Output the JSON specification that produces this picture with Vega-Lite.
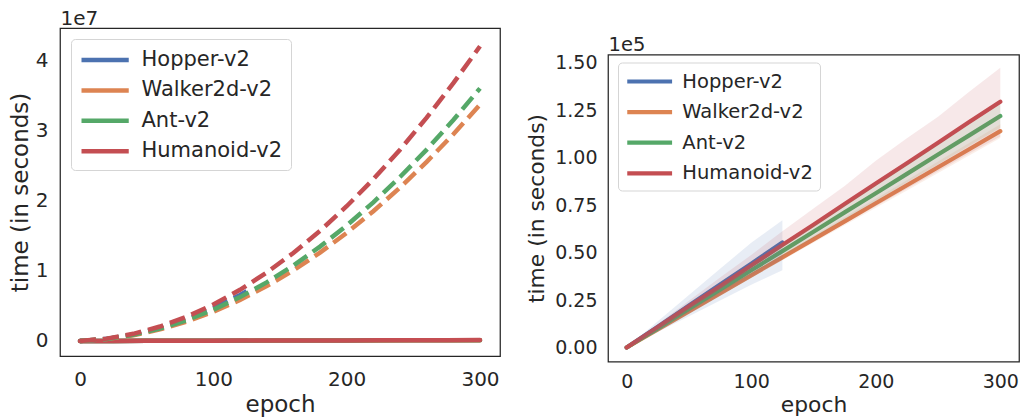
{
  "$schema": "https://vega.github.io/schema/vega-lite/v6.json",
  "background": "white",
  "padding": {"left": 8, "top": 7, "right": 0, "bottom": 0},
  "config": {
    "font": "DejaVu Sans",
    "view": {"stroke": "#262626", "strokeWidth": 1.25},
    "axis": {"grid": false, "ticks": false, "tickSize": 0, "domain": false, "labelColor": "#262626", "titleColor": "#262626", "titleFontWeight": "normal"},
    "concat": {"spacing": 24}
  },
  "datasets": {
    "lin": [
      {"env": "Hopper-v2", "epoch": 0, "time": 0, "lo": 0, "hi": 0},
      {"env": "Hopper-v2", "epoch": 25, "time": 11000, "lo": 8200, "hi": 13800},
      {"env": "Hopper-v2", "epoch": 50, "time": 22100, "lo": 16500, "hi": 27700},
      {"env": "Hopper-v2", "epoch": 75, "time": 33200, "lo": 24800, "hi": 41500},
      {"env": "Hopper-v2", "epoch": 100, "time": 44200, "lo": 33100, "hi": 55200},
      {"env": "Hopper-v2", "epoch": 125, "time": 55300, "lo": 40700, "hi": 67000},
      {"env": "Walker2d-v2", "epoch": 0, "time": 0, "lo": 0, "hi": 0},
      {"env": "Walker2d-v2", "epoch": 25, "time": 9500, "lo": 9200, "hi": 9800},
      {"env": "Walker2d-v2", "epoch": 50, "time": 19000, "lo": 18400, "hi": 19600},
      {"env": "Walker2d-v2", "epoch": 75, "time": 28500, "lo": 27600, "hi": 29400},
      {"env": "Walker2d-v2", "epoch": 100, "time": 38000, "lo": 36800, "hi": 39200},
      {"env": "Walker2d-v2", "epoch": 125, "time": 47500, "lo": 46000, "hi": 49000},
      {"env": "Walker2d-v2", "epoch": 150, "time": 57000, "lo": 55200, "hi": 58800},
      {"env": "Walker2d-v2", "epoch": 175, "time": 66500, "lo": 64400, "hi": 68600},
      {"env": "Walker2d-v2", "epoch": 200, "time": 76000, "lo": 73600, "hi": 78400},
      {"env": "Walker2d-v2", "epoch": 225, "time": 85500, "lo": 82800, "hi": 88200},
      {"env": "Walker2d-v2", "epoch": 250, "time": 95000, "lo": 92000, "hi": 98000},
      {"env": "Walker2d-v2", "epoch": 275, "time": 104500, "lo": 101200, "hi": 107800},
      {"env": "Walker2d-v2", "epoch": 300, "time": 114000, "lo": 110400, "hi": 117600},
      {"env": "Ant-v2", "epoch": 0, "time": 0, "lo": 0, "hi": 0},
      {"env": "Ant-v2", "epoch": 25, "time": 10100, "lo": 9600, "hi": 10700},
      {"env": "Ant-v2", "epoch": 50, "time": 20300, "lo": 19200, "hi": 21400},
      {"env": "Ant-v2", "epoch": 75, "time": 30500, "lo": 28900, "hi": 32200},
      {"env": "Ant-v2", "epoch": 100, "time": 40700, "lo": 38600, "hi": 42900},
      {"env": "Ant-v2", "epoch": 125, "time": 50800, "lo": 48200, "hi": 53500},
      {"env": "Ant-v2", "epoch": 150, "time": 61000, "lo": 57900, "hi": 64200},
      {"env": "Ant-v2", "epoch": 175, "time": 71200, "lo": 67600, "hi": 74900},
      {"env": "Ant-v2", "epoch": 200, "time": 81300, "lo": 77200, "hi": 85600},
      {"env": "Ant-v2", "epoch": 225, "time": 91500, "lo": 86900, "hi": 96300},
      {"env": "Ant-v2", "epoch": 250, "time": 101700, "lo": 96500, "hi": 106900},
      {"env": "Ant-v2", "epoch": 275, "time": 111800, "lo": 106200, "hi": 117500},
      {"env": "Ant-v2", "epoch": 300, "time": 122000, "lo": 115800, "hi": 128200},
      {"env": "Humanoid-v2", "epoch": 0, "time": 0, "lo": 0, "hi": 0},
      {"env": "Humanoid-v2", "epoch": 25, "time": 10800, "lo": 9200, "hi": 12400},
      {"env": "Humanoid-v2", "epoch": 50, "time": 21700, "lo": 18500, "hi": 24700},
      {"env": "Humanoid-v2", "epoch": 75, "time": 32300, "lo": 27900, "hi": 36900},
      {"env": "Humanoid-v2", "epoch": 100, "time": 43200, "lo": 37400, "hi": 48800},
      {"env": "Humanoid-v2", "epoch": 125, "time": 54000, "lo": 46600, "hi": 61300},
      {"env": "Humanoid-v2", "epoch": 150, "time": 64700, "lo": 55900, "hi": 73200},
      {"env": "Humanoid-v2", "epoch": 175, "time": 75600, "lo": 65200, "hi": 85100},
      {"env": "Humanoid-v2", "epoch": 200, "time": 86400, "lo": 74400, "hi": 98400},
      {"env": "Humanoid-v2", "epoch": 225, "time": 97100, "lo": 83600, "hi": 110300},
      {"env": "Humanoid-v2", "epoch": 250, "time": 107900, "lo": 92900, "hi": 121600},
      {"env": "Humanoid-v2", "epoch": 275, "time": 118800, "lo": 102200, "hi": 134800},
      {"env": "Humanoid-v2", "epoch": 300, "time": 129500, "lo": 111200, "hi": 147400}
    ],
    "quad": [
      {"env": "Hopper-v2", "epoch": 0, "time": 0},
      {"env": "Hopper-v2", "epoch": 20, "time": 302000},
      {"env": "Hopper-v2", "epoch": 40, "time": 922000},
      {"env": "Hopper-v2", "epoch": 60, "time": 1858000},
      {"env": "Hopper-v2", "epoch": 80, "time": 3110000},
      {"env": "Hopper-v2", "epoch": 100, "time": 4680000},
      {"env": "Hopper-v2", "epoch": 120, "time": 6566000},
      {"env": "Hopper-v2", "epoch": 125, "time": 7090000},
      {"env": "Walker2d-v2", "epoch": 0, "time": 0},
      {"env": "Walker2d-v2", "epoch": 20, "time": 269000},
      {"env": "Walker2d-v2", "epoch": 40, "time": 821000},
      {"env": "Walker2d-v2", "epoch": 60, "time": 1655000},
      {"env": "Walker2d-v2", "epoch": 80, "time": 2772000},
      {"env": "Walker2d-v2", "epoch": 100, "time": 4170000},
      {"env": "Walker2d-v2", "epoch": 120, "time": 5851000},
      {"env": "Walker2d-v2", "epoch": 140, "time": 7815000},
      {"env": "Walker2d-v2", "epoch": 160, "time": 10060000},
      {"env": "Walker2d-v2", "epoch": 180, "time": 12588000},
      {"env": "Walker2d-v2", "epoch": 200, "time": 15398000},
      {"env": "Walker2d-v2", "epoch": 220, "time": 18491000},
      {"env": "Walker2d-v2", "epoch": 240, "time": 21866000},
      {"env": "Walker2d-v2", "epoch": 260, "time": 25523000},
      {"env": "Walker2d-v2", "epoch": 280, "time": 29462000},
      {"env": "Walker2d-v2", "epoch": 300, "time": 33684000},
      {"env": "Ant-v2", "epoch": 0, "time": 0},
      {"env": "Ant-v2", "epoch": 20, "time": 288000},
      {"env": "Ant-v2", "epoch": 40, "time": 878000},
      {"env": "Ant-v2", "epoch": 60, "time": 1769000},
      {"env": "Ant-v2", "epoch": 80, "time": 2962000},
      {"env": "Ant-v2", "epoch": 100, "time": 4456000},
      {"env": "Ant-v2", "epoch": 120, "time": 6253000},
      {"env": "Ant-v2", "epoch": 140, "time": 8351000},
      {"env": "Ant-v2", "epoch": 160, "time": 10750000},
      {"env": "Ant-v2", "epoch": 180, "time": 13451000},
      {"env": "Ant-v2", "epoch": 200, "time": 16454000},
      {"env": "Ant-v2", "epoch": 220, "time": 19759000},
      {"env": "Ant-v2", "epoch": 240, "time": 23365000},
      {"env": "Ant-v2", "epoch": 260, "time": 27273000},
      {"env": "Ant-v2", "epoch": 280, "time": 31483000},
      {"env": "Ant-v2", "epoch": 300, "time": 36000000},
      {"env": "Humanoid-v2", "epoch": 0, "time": 0},
      {"env": "Humanoid-v2", "epoch": 20, "time": 336000},
      {"env": "Humanoid-v2", "epoch": 40, "time": 1024000},
      {"env": "Humanoid-v2", "epoch": 60, "time": 2064000},
      {"env": "Humanoid-v2", "epoch": 80, "time": 3456000},
      {"env": "Humanoid-v2", "epoch": 100, "time": 5200000},
      {"env": "Humanoid-v2", "epoch": 120, "time": 7296000},
      {"env": "Humanoid-v2", "epoch": 140, "time": 9744000},
      {"env": "Humanoid-v2", "epoch": 160, "time": 12544000},
      {"env": "Humanoid-v2", "epoch": 180, "time": 15696000},
      {"env": "Humanoid-v2", "epoch": 200, "time": 19200000},
      {"env": "Humanoid-v2", "epoch": 220, "time": 23056000},
      {"env": "Humanoid-v2", "epoch": 240, "time": 27264000},
      {"env": "Humanoid-v2", "epoch": 260, "time": 31824000},
      {"env": "Humanoid-v2", "epoch": 280, "time": 36736000},
      {"env": "Humanoid-v2", "epoch": 300, "time": 42000000}
    ]
  },
  "resolve": {
    "scale": {"x": "independent", "y": "independent", "color": "independent"},
    "legend": {"color": "independent"}
  },
  "hconcat": [
    {
      "width": 440,
      "height": 328,
      "resolve": {"axis": {"x": "independent"}},
      "layer": [
        {
          "data": {"name": "lin"},
          "mark": {"type": "line", "strokeWidth": 4.5, "strokeCap": "round"},
          "encoding": {
            "x": {"field": "epoch", "type": "quantitative",
              "scale": {"domain": [-15, 315], "nice": false, "zero": false},
              "axis": {"values": [0, 100, 200, 300], "title": "epoch", "labelFontSize": 20, "titleFontSize": 23, "labelPadding": 13, "titlePadding": 4}},
            "y": {"field": "time", "type": "quantitative",
              "scale": {"domain": [-2140000, 44600000], "nice": false, "zero": false},
              "axis": {"values": [0, 10000000, 20000000, 30000000, 40000000], "labelExpr": "format(datum.value / 10000000, 'd')", "title": "time (in seconds)", "labelFontSize": 20, "titleFontSize": 23, "labelPadding": 12, "titlePadding": 3}},
            "color": {"field": "env", "type": "nominal",
              "scale": {"domain": ["Hopper-v2", "Walker2d-v2", "Ant-v2", "Humanoid-v2"], "range": ["#4C72B0", "#DD8452", "#55A868", "#C44E52"]},
              "legend": {"title": null, "orient": "none", "legendX": 11, "legendY": 11, "symbolType": "M-1,0H3.5", "symbolSize": 441, "symbolStrokeWidth": 4.5, "labelFontSize": 21, "labelColor": "#262626", "labelOffset": 36.5, "labelLimit": 400, "rowPadding": 7.4, "padding": 8, "strokeColor": "#d5d5d5", "fillColor": "white", "cornerRadius": 4}}
          }
        },
        {
          "data": {"name": "quad"},
          "mark": {"type": "line", "strokeWidth": 4.5, "strokeDash": [16, 7], "strokeCap": "butt"},
          "encoding": {
            "x": {"field": "epoch", "type": "quantitative",
              "axis": {"orient": "top", "labels": false, "title": "1e7", "titleAnchor": "start", "titleAlign": "left", "titleFontSize": 20, "titlePadding": 0}},
            "y": {"field": "time", "type": "quantitative"},
            "color": {"field": "env", "type": "nominal"}
          }
        }
      ]
    },
    {
      "spacing": 4.5,
      "resolve": {
        "scale": {"x": "independent", "y": "independent", "color": "independent"},
        "legend": {"color": "independent"}
      },
      "vconcat": [
        {
          "width": 411,
          "height": 1,
          "view": {"stroke": null},
          "data": {"values": []},
          "mark": "text"
        },
        {
          "width": 411,
          "height": 307,
          "resolve": {"axis": {"x": "independent"}},
          "layer": [
            {
              "data": {"name": "lin"},
              "mark": {"type": "line", "strokeWidth": 4.2, "strokeCap": "round"},
              "encoding": {
                "x": {"field": "epoch", "type": "quantitative",
                  "scale": {"domain": [-15, 315], "nice": false, "zero": false},
                  "axis": {"values": [0, 100, 200, 300], "title": "epoch", "labelFontSize": 19, "titleFontSize": 21.8, "labelPadding": 10.8, "titlePadding": 3.5}},
                "y": {"field": "time", "type": "quantitative",
                  "scale": {"domain": [-7370, 154400], "nice": false, "zero": false},
                  "axis": {"values": [0, 25000, 50000, 75000, 100000, 125000, 150000], "labelExpr": "format(datum.value / 100000, '.2f')", "title": "time (in seconds)", "labelFontSize": 19, "titleFontSize": 21.8, "labelPadding": 11, "titlePadding": 6.5}},
                "color": {"field": "env", "type": "nominal",
                  "scale": {"domain": ["Hopper-v2", "Walker2d-v2", "Ant-v2", "Humanoid-v2"], "range": ["#4C72B0", "#DD8452", "#55A868", "#C44E52"]},
                  "legend": {"title": null, "orient": "none", "legendX": 10, "legendY": 8, "symbolType": "M-1,0H3.6", "symbolSize": 380, "symbolStrokeWidth": 4.2, "labelFontSize": 19.5, "labelColor": "#262626", "labelOffset": 33.3, "labelLimit": 400, "rowPadding": 8.6, "padding": 7, "strokeColor": "#d5d5d5", "fillColor": "white", "cornerRadius": 4}}
              }
            },
            {
              "data": {"name": "lin"},
              "mark": {"type": "area", "fillOpacity": 0.13},
              "encoding": {
                "x": {"field": "epoch", "type": "quantitative",
                  "axis": {"orient": "top", "labels": false, "title": "1e5", "titleAnchor": "start", "titleAlign": "left", "titleFontSize": 19.5, "titlePadding": 0}},
                "y": {"field": "lo", "type": "quantitative", "stack": null},
                "y2": {"field": "hi"},
                "color": {"field": "env", "type": "nominal"}
              }
            }
          ]
        }
      ]
    }
  ]
}
